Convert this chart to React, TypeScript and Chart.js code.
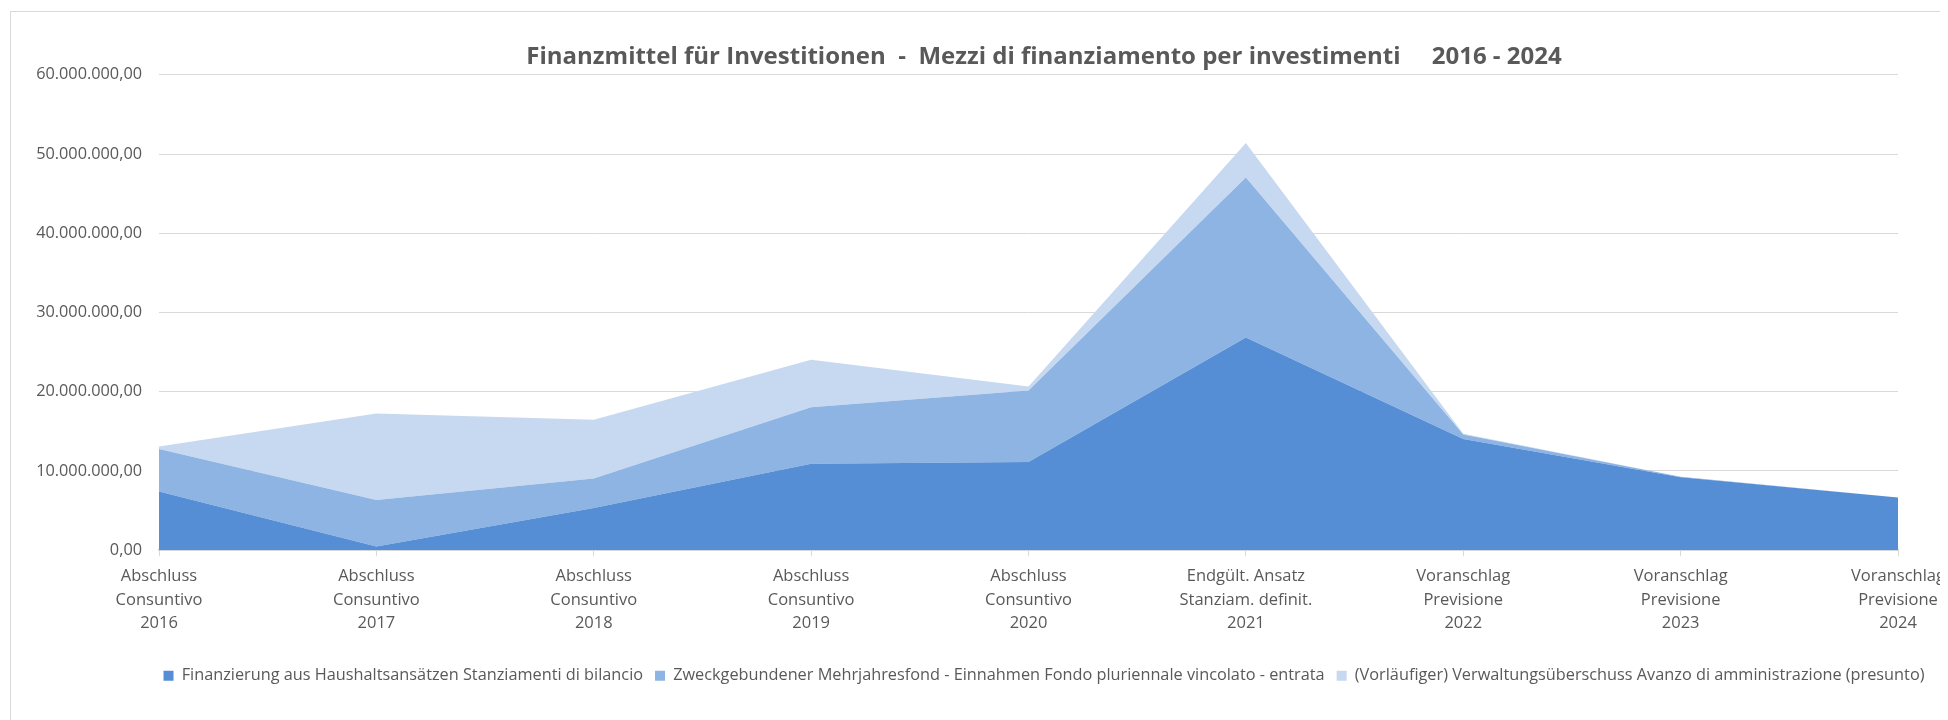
import React, { useEffect, useRef } from 'react';
import { Chart, registerables } from 'chart.js';

Chart.register(...registerables);

const titleText = 'Finanzmittel für Investitionen  -  Mezzi di finanziamento per investimenti     2016 - 2024';

const categories: string[][] = [
  ['Abschluss', 'Consuntivo', '2016'],
  ['Abschluss', 'Consuntivo', '2017'],
  ['Abschluss', 'Consuntivo', '2018'],
  ['Abschluss', 'Consuntivo', '2019'],
  ['Abschluss', 'Consuntivo', '2020'],
  ['Endgült. Ansatz', 'Stanziam. definit.', '2021'],
  ['Voranschlag', 'Previsione', '2022'],
  ['Voranschlag', 'Previsione', '2023'],
  ['Voranschlag', 'Previsione', '2024'],
];

const seriesNames = [
  'Finanzierung aus Haushaltsansätzen Stanziamenti di bilancio',
  'Zweckgebundener Mehrjahresfond - Einnahmen Fondo pluriennale vincolato - entrata',
  '(Vorläufiger) Verwaltungsüberschuss Avanzo di amministrazione (presunto)',
];

const finanzierung = [7420000, 460000, 5320000, 10920000, 11140000, 26840000, 14050000, 9200000, 6660000];
const mehrjahresfond = [5360000, 5870000, 3740000, 7130000, 9020000, 20200000, 550000, 80000, 0];
const ueberschuss = [300000, 10920000, 7400000, 6000000, 510000, 4350000, 100000, 0, 0];

const yMin = 0;
const yMax = 60000000;
const yStep = 10000000;

const colors = ['#558ED5', '#8EB4E3', '#C6D9F1'];
const textColor = '#595959';
const gridColor = '#D9D9D9';
const fontFamily = "'Open Sans', sans-serif";

function fmt(v: number): string {
  const s = Math.round(v).toString();
  let out = '';
  for (let i = 0; i < s.length; i++) {
    const fromRight = s.length - i;
    out += s[i];
    if (fromRight > 1 && (fromRight - 1) % 3 === 0) out += '.';
  }
  return out + ',00';
}

export default function App() {
  const ref = useRef<HTMLCanvasElement | null>(null);

  useEffect(() => {
    document.documentElement.style.overflow = 'hidden';
    document.body.style.overflow = 'hidden';
    if (!ref.current) return;
    const chart = new Chart(ref.current, {
      type: 'line',
      data: {
        labels: categories,
        datasets: [
          { label: seriesNames[0], data: finanzierung, backgroundColor: colors[0], borderColor: colors[0], borderWidth: 0, pointRadius: 0, fill: 'origin', tension: 0 },
          { label: seriesNames[1], data: mehrjahresfond, backgroundColor: colors[1], borderColor: colors[1], borderWidth: 0, pointRadius: 0, fill: '-1', tension: 0 },
          { label: seriesNames[2], data: ueberschuss, backgroundColor: colors[2], borderColor: colors[2], borderWidth: 0, pointRadius: 0, fill: '-1', tension: 0 },
        ],
      },
      options: {
        animation: false,
        responsive: false,
        devicePixelRatio: 1,
        layout: { padding: { left: 10, right: 10, top: 0, bottom: 26 } },
        plugins: {
          title: {
            display: true,
            text: titleText,
            color: textColor,
            font: { family: fontFamily, size: 24, weight: 'bold' },
            padding: { top: 31, bottom: 3 },
          },
          legend: {
            display: true,
            position: 'bottom',
            labels: {
              color: textColor,
              font: { family: fontFamily, size: 16.3 },
              boxWidth: 10,
              boxHeight: 10,
              padding: 12,
            },
          },
          tooltip: { enabled: false },
        },
        scales: {
          x: {
            type: 'category',
            offset: false,
            grid: { display: true, drawOnChartArea: false, drawTicks: true, tickLength: 6, color: gridColor },
            border: { display: true, color: gridColor, width: 2 },
            ticks: {
              color: textColor,
              font: { family: fontFamily, size: 16.5, lineHeight: 1.4 },
              padding: 9,
              maxRotation: 0,
              autoSkip: false,
            },
            afterFit: (s: any) => { s.height = 105.5; },
          },
          y: {
            type: 'linear',
            stacked: true,
            min: yMin,
            max: yMax,
            grid: { color: gridColor, lineWidth: 1, drawTicks: false },
            border: { display: false },
            ticks: {
              stepSize: yStep,
              color: textColor,
              font: { family: fontFamily, size: 16.3 },
              padding: 17,
              callback: (v: any) => fmt(Number(v)),
            },
            afterFit: (s: any) => { s.width = 138; },
          },
          yRight: {
            type: 'linear',
            position: 'right',
            display: true,
            grid: { display: false },
            border: { display: false },
            ticks: { display: false },
            afterFit: (s: any) => { s.width = 169; },
          },
        },
      },
    } as any);
    return () => chart.destroy();
  }, []);

  return (
    <div style={{ position: 'relative', width: 1940, height: 712, overflow: 'hidden' }}>
      <div style={{ position: 'absolute', left: 2, top: 3, width: 2066, height: 760, border: `1px solid ${gridColor}`, background: '#fff' }}>
        <canvas ref={ref} width={2066} height={708} style={{ display: 'block', width: 2066, height: 708 }} />
      </div>
    </div>
  );
}
